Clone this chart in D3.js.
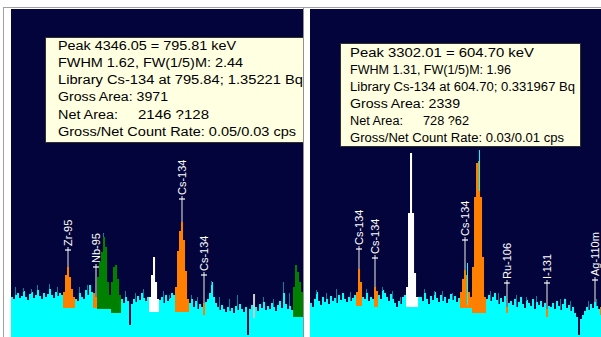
<!DOCTYPE html>
<html><head><meta charset="utf-8">
<script src="https://cdn.jsdelivr.net/npm/d3@7"></script>
<style>body{margin:0;background:#fff}svg{display:block}</style>
</head><body><svg id="c" width="601" height="337"></svg>
<script>
// ---------- DATA ----------
const leftCounts = [40,38,42,44,39,41,46,40,37,43,45,39,42,47,41,38,44,40,43,48,42,39,45,41,44,
  42,45,62,70,60,48,40,38,
  36,44,40,38,47,42,52,45,
  44,40,
  60,75,85,100,90,55,
  42,
  55,70,72,58,42,
  38,34,40,36,12,33,38,35,41,37,44,39,36,40,
  40,62,80,55,38,
  37,40,34,42,36,39,44,42,
  50,86,106,115,97,66,38,
  34,38,30,36,28,33,30,
  34,
  35,38,44,
  55,
  40,34,30,27,32,28,25,30,26,29,24,31,27,33,28,25,30,
  2,
  28,32,
  43,
  30,26,33,29,35,27,31,28,34,30,26,32,36,29,44,33,28,31,27,
  50,72,65,55,45];
const rightCounts = [34,30,38,45,36,32,40,35,38,33,41,36,39,34,42,37,44,38,35,40,36,39,42,
  45,68,55,40,
  38,44,36,40,38,
  50,46,
  42,38,47,44,40,36,43,38,34,30,36,33,40,
  42,
  50,124,184,124,64,40,40,
  40,36,44,38,33,41,37,45,39,35,42,36,40,34,38,43,37,41,35,39,
  45,58,67,62,45,40,
  70,140,174,176,140,80,40,
  38,42,36,40,44,37,33,39,35,41,
  30,
  34,
  36,32,38,30,35,40,33,29,37,34,31,38,28,35,32,36,30,34,
  28,
  31,
  30,34,28,36,31,27,33,38,29,32,26,30,24,20,2,18,22,26,30,27,33,29,35,31,28,30];

// peak regions: [startChannel, endChannel, backgroundLevel, kind]
const leftPeaks = [[26,31,29,"identified"],[41,42,29,"identified"],[43,49,28,"unidentified"],
  [50,54,24,"unidentified"],[69,73,25,"selected"],[82,88,25,"identified"],[96,96,22,"identified"],
  [121,121,19,"marker"],[141,145,20,"unidentified"]];
const rightPeaks = [[23,25,31,"identified"],[32,33,30,"identified"],[48,53,30,"selected"],
  [75,80,29,"identified"],[81,87,24,"identified"],[98,98,24,"identified"],[118,118,20,"identified"],
  [145,145,22,"identified"]];

// dark spikes [channel, top]
const leftSpikes = [[2,50],[6,49],[10,48],[13,52],[19,53],[23,50],[34,50],[38,52],[46,104],[57,46],
  [62,44],[66,48],[76,46],[79,42],[90,42],[93,40],[100,56],[104,40],[109,38],[113,42],[126,40],[131,38],[136,55],[139,44]];
const rightSpikes = [[3,47],[8,44],[13,48],[20,45],[28,48],[36,50],[41,46],[45,40],[57,48],[62,46],
  [66,46],[71,44],[90,46],[94,44],[103,42],[108,40],[113,41],[125,38],[130,36],[139,36],[143,38]];
const rightCyanTips = [[84,187],[78,74]];

// nuclide labels: [name, channel, arrowLevel]
const leftLabels = [["Zr-95",28,87],["Nb-95",42,70],["Cs-134",85,138],["Cs-134",96,62]];
const rightLabels = [["Cs-134",24,88],["Cs-134",32,79],["Cs-134",77,97],["Ru-106",98,54],["I-131",118,54],["Ag-110m",142,57]];

// info box texts
const leftInfo = ["Peak 4346.05 = 795.81 keV","FWHM 1.62, FW(1/5)M: 2.44","Library Cs-134 at 795.84; 1.35221 Bq",
  "Gross Area: 3971","Net Area:","Gross/Net Count Rate: 0.05/0.03 cps"];
const leftNet = "2146 ?128";
const rightInfo = ["Peak 3302.01 = 604.70 keV","FWHM 1.31, FW(1/5)M: 1.96","Library Cs-134 at 604.70; 0.331967 Bq",
  "Gross Area: 2339","Net Area:","Gross/Net Count Rate: 0.03/0.01 cps"];
const rightNet = "728 ?62";

// ---------- DRAW ----------
const svg = d3.select("#c");
const navy = "#04043c", cyan = "#00ffff", teal = "#0f7fa0";
const kindColor = {identified:"#ff8000", unidentified:"#008000", selected:"#ffffff", marker:"#c8c8c8"};

svg.append("rect").attr("x",0).attr("y",0).attr("width",601).attr("height",337).attr("fill","#fff");
svg.append("rect").attr("x",3).attr("y",7).attr("width",598).attr("height",1).attr("fill","#a0a0a0");
svg.append("rect").attr("x",3).attr("y",7).attr("width",1).attr("height",330).attr("fill","#a0a0a0");
svg.append("rect").attr("x",303).attr("y",8).attr("width",1).attr("height",329).attr("fill","#909090");

const yS = d3.scaleLinear().domain([0,330]).range([337,7]);

const panels = [
  {x0:11, counts:leftCounts, peaks:leftPeaks, spikes:leftSpikes, tips:[], labels:leftLabels,
   box:{x:45,y:37,w:259,h:105}, info:leftInfo, net:leftNet, netX:138, tx:58, base0:49.8, step:17.2,
   lens:[178,185,245,110,60,238], netLen:71},
  {x0:310, counts:rightCounts, peaks:rightPeaks, spikes:rightSpikes, tips:rightCyanTips, labels:rightLabels,
   box:{x:340,y:43,w:240,h:103}, info:rightInfo, net:rightNet, netX:423, tx:350, base0:56.5, step:17,
   lens:[184,161,225,110,53,214], netLen:46}
];

panels.forEach((p,pi)=>{
  const n = p.counts.length;
  const xS = d3.scaleLinear().domain([0,n]).range([p.x0, p.x0 + 2*n]);
  const pw = Math.min(2*n, 601 - p.x0);
  const clipId = "clip"+pi;
  svg.append("clipPath").attr("id",clipId).append("rect")
    .attr("x",p.x0).attr("y",9).attr("width",pw).attr("height",328);
  const g = svg.append("g").attr("clip-path",`url(#${clipId})`);
  g.append("rect").attr("x",p.x0).attr("y",9).attr("width",pw).attr("height",328).attr("fill",navy);

  const regionOf = i => p.peaks.find(r => i>=r[0] && i<=r[1]);
  const chans = d3.range(n).map(i=>{
    const r = regionOf(i);
    return {i, c:p.counts[i], base: r ? Math.min(r[2], p.counts[i]) : p.counts[i], r};
  });
  // continuum (cyan)
  g.selectAll("rect.cy").data(chans).join("rect").attr("class","cy")
    .attr("x",d=>xS(d.i)).attr("width",2.05)
    .attr("y",d=>yS(d.base)).attr("height",d=>yS(0)-yS(d.base)).attr("fill",cyan);
  // dark spikes
  g.selectAll("line.sp").data(p.spikes).join("line").attr("class","sp")
    .attr("x1",d=>xS(d[0])+0.5).attr("x2",d=>xS(d[0])+0.5)
    .attr("y1",d=>yS(d[1])).attr("y2",d=>yS(Math.min(p.counts[d[0]], d[1]-4)))
    .attr("stroke",teal).attr("stroke-width",1);
  // peak areas
  g.selectAll("rect.pk").data(chans.filter(d=>d.r)).join("rect").attr("class","pk")
    .attr("x",d=>xS(d.i)).attr("width",2.05)
    .attr("y",d=>yS(d.c)).attr("height",d=>yS(d.base)-yS(d.c)).attr("fill",d=>kindColor[d.r[3]]);
  // cyan tips
  g.selectAll("line.tp").data(p.tips).join("line").attr("class","tp")
    .attr("x1",d=>xS(d[0])+1.5).attr("x2",d=>xS(d[0])+1.5)
    .attr("y1",d=>yS(d[1])).attr("y2",d=>yS(p.counts[d[0]]-30))
    .attr("stroke",cyan).attr("stroke-width",1);
  // labels
  const lg = g.selectAll("g.lb").data(p.labels).join("g").attr("class","lb");
  lg.append("line")
    .attr("x1",d=>xS(d[1])+1).attr("x2",d=>xS(d[1])+1)
    .attr("y1",d=>yS(d[2])-3).attr("y2",d=>yS(p.counts[d[1]]))
    .attr("stroke","#c8c8c8").attr("stroke-width",1.2);
  lg.append("line")
    .attr("x1",d=>xS(d[1])-2).attr("x2",d=>xS(d[1])+4)
    .attr("y1",d=>yS(d[2])).attr("y2",d=>yS(d[2]))
    .attr("stroke","#ffffff").attr("stroke-width",1.2);
  lg.append("text")
    .attr("transform",d=>`translate(${xS(d[1])+1.2},${yS(d[2])-4}) rotate(-90)`)
    .attr("dy","0.36em").attr("text-anchor","start")
    .attr("font-family","Liberation Sans, Arial, sans-serif").attr("font-size",11)
    .attr("fill","#ffffff").text(d=>d[0]);

  // info box
  g.append("rect").attr("x",p.box.x+0.5).attr("y",p.box.y+0.5).attr("width",p.box.w).attr("height",p.box.h)
    .attr("fill","#ffffe1").attr("stroke","#30302a").attr("stroke-width",1);
  const tg = g.append("g").attr("font-family","Liberation Sans, Arial, sans-serif")
    .attr("font-size",12.5).attr("fill","#000");
  p.info.forEach((t,k)=>{
    tg.append("text").attr("x",p.tx).attr("y",p.base0 + k*p.step)
      .attr("textLength",p.lens[k]).attr("lengthAdjust","spacingAndGlyphs").text(t);
  });
  tg.append("text").attr("x",p.netX).attr("y",p.base0 + 4*p.step)
    .attr("textLength",p.netLen).attr("lengthAdjust","spacingAndGlyphs").text(p.net);
});
</script></body></html>
